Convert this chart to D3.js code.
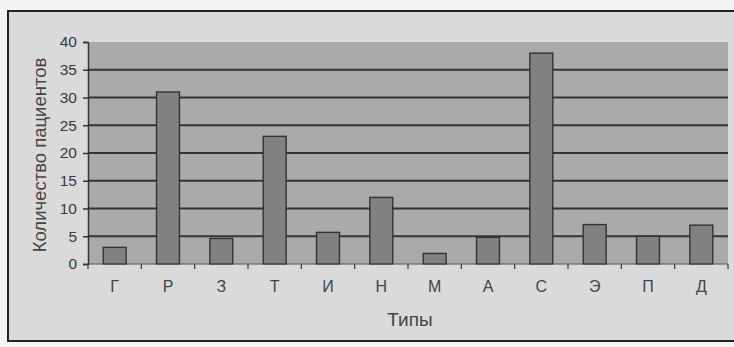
<!DOCTYPE html>
<html><head><meta charset="utf-8">
<script src="https://cdn.jsdelivr.net/npm/d3@7"></script>
<style>html,body{margin:0;padding:0;background:#fff;}svg{display:block;}</style>
</head><body><div id="chart"></div>
<script>
const categories = ["Г","Р","З","Т","И","Н","М","А","С","Э","П","Д"];
const values = [3, 31, 4.6, 23, 5.7, 12, 1.9, 4.8, 38, 7.1, 5, 7];
const yTicks = [0,5,10,15,20,25,30,35,40];
const yTitle = "Количество пациентов";
const xTitle = "Типы";

const W = 734, H = 347;
const svg = d3.select("#chart").append("svg").attr("width", W).attr("height", H);
svg.append("rect").attr("width", W).attr("height", H).attr("fill", "#f4f4f4");
svg.append("rect").attr("x", 8).attr("y", 11).attr("width", W + 5).attr("height", 330)
  .attr("fill", "#dadada").attr("stroke", "#222").attr("stroke-width", 2);

const m = {left: 88, right: 6, top: 42, bottom: 83};
const x = d3.scaleBand().domain(categories).range([m.left, W - m.right]).paddingInner(0.57).paddingOuter(0.285);
const y = d3.scaleLinear().domain([0, 40]).range([H - m.bottom, m.top]);
const font = "Liberation Sans, Arial, sans-serif";

svg.append("rect").attr("x", m.left).attr("y", m.top).attr("width", W - m.right - m.left)
  .attr("height", y(0) - m.top).attr("fill", "#aaaaaa");

svg.append("g").selectAll("line").data(yTicks.filter(d => d > 0 && d < 40)).join("line")
  .attr("x1", m.left).attr("x2", W - m.right).attr("y1", d => y(d)).attr("y2", d => y(d))
  .attr("stroke", "#333").attr("stroke-width", 1.8);

svg.append("g").selectAll("rect").data(values).join("rect")
  .attr("x", (d, i) => x(categories[i])).attr("width", x.bandwidth())
  .attr("y", d => y(d)).attr("height", d => y(0) - y(d))
  .attr("fill", "#818181").attr("stroke", "#333").attr("stroke-width", 1.4);

const yAxis = svg.append("g").attr("transform", `translate(${m.left},0)`)
  .call(d3.axisLeft(y).tickValues(yTicks).tickSize(5).tickPadding(6));
yAxis.select(".domain").attr("stroke", "#333").attr("stroke-width", 1.5);
yAxis.selectAll(".tick line").attr("stroke", "#333").attr("stroke-width", 1.5);
yAxis.selectAll("text").attr("font-family", font).attr("font-size", 15.5).attr("fill", "#3a3a3a");

const step = x.step();
const xb = svg.append("g");
xb.append("line").attr("x1", m.left).attr("x2", W - m.right).attr("y1", y(0)).attr("y2", y(0))
  .attr("stroke", "#555").attr("stroke-width", 1.2);
xb.selectAll("line.t").data(d3.range(categories.length + 1)).join("line").attr("class", "t")
  .attr("x1", i => m.left + i * step).attr("x2", i => m.left + i * step)
  .attr("y1", y(0)).attr("y2", y(0) + 5).attr("stroke", "#444").attr("stroke-width", 1.3);
xb.selectAll("text").data(categories).join("text")
  .attr("x", d => x(d) + x.bandwidth() / 2).attr("y", y(0) + 28)
  .attr("text-anchor", "middle").attr("font-family", font)
  .attr("font-size", 16).attr("fill", "#444").text(d => d);

svg.append("text").attr("transform", `translate(46,${(m.top + y(0)) / 2 + 2}) rotate(-90)`)
  .attr("text-anchor", "middle").attr("font-family", font)
  .attr("font-size", 18.5).attr("fill", "#444").text(yTitle);
svg.append("text").attr("x", 410).attr("y", 326).attr("text-anchor", "middle")
  .attr("font-family", font).attr("font-size", 19).attr("fill", "#444").text(xTitle);
</script></body></html>
